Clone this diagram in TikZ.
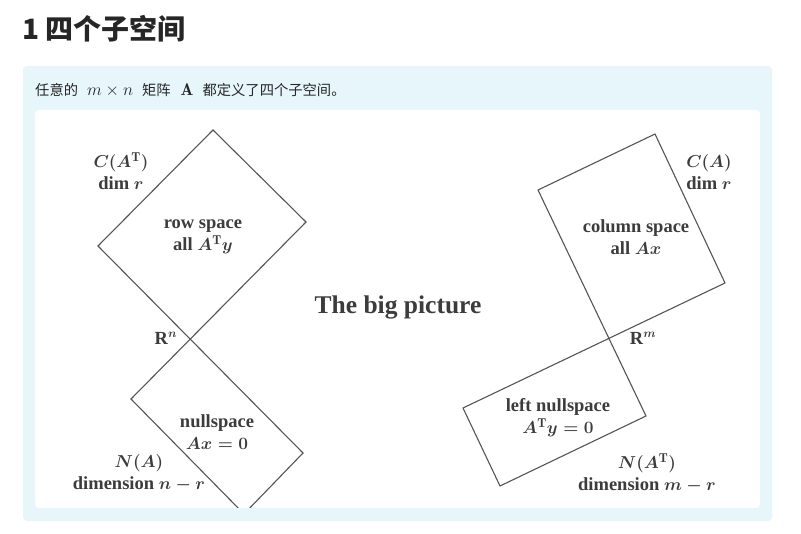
\documentclass[tikz,border=0pt]{standalone}
\usepackage{fontspec}
\newfontfamily\cjk{Noto Sans CJK SC}
\newfontfamily\bookfont{Liberation Serif}
\definecolor{boxblue}{HTML}{E6F6FB}
\definecolor{headgray}{HTML}{262626}
\definecolor{labelgray}{HTML}{3C3C3C}
\definecolor{linegray}{HTML}{555555}
\newcommand{\bigmath}[1]{{\fontsize{17}{17}\selectfont$#1$}}
\newcommand{\boldR}{\textbf{R}}
\tikzset{
	frame/.style={draw=linegray, line width=1.1pt, line join=miter},
	lbl/.style={font=\bookfont\bfseries\boldmath\fontsize{18.5}{22}\selectfont, text=labelgray, align=center, inner sep=0pt},
}
\begin{document}
\begin{tikzpicture}[x=1pt, y=-1pt]

	\useasboundingbox (0,0) rectangle (801,534);
	\fill[white] (0,0) rectangle (801,534);

	\node[anchor=west, inner sep=0pt, text=headgray, font=\cjk\bfseries\fontsize{28}{31}\selectfont] (title) at (22,29) {1 四个子空间};
	\fill[boxblue, rounded corners=4pt] (23,66) rectangle (772,521);
	\node[anchor=west, inner sep=0pt, text=headgray, font=\cjk\fontsize{14.3}{17}\selectfont] (intro) at (35,90) {任意的\hspace{9pt}\bigmath{m\times n}\hspace{9pt}矩阵\hspace{10pt}\bigmath{\mathbf{A}}\hspace{9pt}都定义了四个子空间。};
	\fill[white, rounded corners=4pt] (35,110) rectangle (760,508);

	\coordinate (rowT) at (213,130);
	\coordinate (rowL) at (98,246);
	\coordinate (rowR) at (306,222);
	\coordinate (nullL) at (131,399);
	\coordinate (nullR) at (303,453);
	\coordinate (nullB) at (244,514);

	\coordinate (colT) at (655,134);
	\coordinate (colL) at (538,190);
	\coordinate (colR) at (725,283);
	\coordinate (lnullL) at (463,408);
	\coordinate (lnullR) at (646,416);
	\coordinate (lnullB) at (500,486);

	\begin{scope}
		\clip[rounded corners=4pt] (35,110) rectangle (760,508);
		\draw[frame] (rowT) -- (rowR) -- (nullL) -- (nullB) -- (nullR) -- (rowL) -- cycle;
		\draw[frame] (colT) -- (colR) -- (lnullL) -- (lnullB) -- (lnullR) -- (colL) -- cycle;
	\end{scope}

	\node[lbl] (crow) at (121,171) {$C(A^{\mathrm{T}})$\\dim $r$};
	\node[lbl] (rowsp) at (203,237) {row space\\all $A^{\mathrm{T}}y$};
	\node[lbl] (rn) at (166,338) {\boldR$^n$};
	\node[lbl] (nullsp) at (217,432) {nullspace\\$Ax=0$};
	\node[lbl] (na) at (139,473) {$N(A)$\\dimension $n-r$};

	\node[lbl, font=\bookfont\bfseries\fontsize{25.5}{30}\selectfont] (big) at (398,307) {The big picture};

	\node[lbl] (ccol) at (709,172) {$C(A)$\\dim $r$};
	\node[lbl] (colsp) at (636,237) {column space\\all $Ax$};
	\node[lbl] (rm) at (643,338) {\boldR$^m$};
	\node[lbl] (lnullsp) at (558,418) {left nullspace\\$A^{\mathrm{T}}y=0$};
	\node[lbl] (nat) at (647,473) {$N(A^{\mathrm{T}})$\\dimension $m-r$};

\end{tikzpicture}
\end{document}
